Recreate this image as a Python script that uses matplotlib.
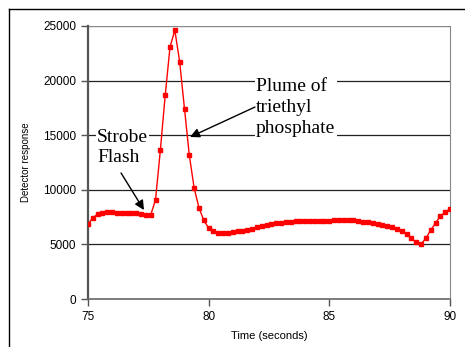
import matplotlib
matplotlib.use("Agg")
import matplotlib.pyplot as plt
from matplotlib.lines import Line2D

# time (s) and detector response
time_s = [75.0, 75.2, 75.4, 75.6, 75.8, 76.0, 76.2, 76.4, 76.6, 76.8,
          77.0, 77.2, 77.4, 77.6, 77.8, 78.0, 78.2, 78.4, 78.6, 78.8,
          79.0, 79.2, 79.4, 79.6, 79.8, 80.0, 80.2, 80.4, 80.6, 80.8,
          81.0, 81.2, 81.4, 81.6, 81.8, 82.0, 82.2, 82.4, 82.6, 82.8,
          83.0, 83.2, 83.4, 83.6, 83.8, 84.0, 84.2, 84.4, 84.6, 84.8,
          85.0, 85.2, 85.4, 85.6, 85.8, 86.0, 86.2, 86.4, 86.6, 86.8,
          87.0, 87.2, 87.4, 87.6, 87.8, 88.0, 88.2, 88.4, 88.6, 88.8,
          89.0, 89.2, 89.4, 89.6, 89.8, 90.0]
response = [6850, 7450, 7750, 7900, 7950, 7950, 7900, 7850, 7900, 7900,
            7850, 7800, 7700, 7700, 9100, 13650, 18650, 23100, 24600, 21700,
            17400, 13150, 10150, 8350, 7200, 6500, 6200, 6050, 6000, 6050,
            6100, 6200, 6250, 6350, 6450, 6550, 6650, 6800, 6870, 6950,
            7000, 7050, 7080, 7100, 7120, 7150, 7150, 7150, 7150, 7170,
            7180, 7200, 7200, 7200, 7200, 7190, 7150, 7080, 7020, 6950,
            6850, 6760, 6680, 6560, 6420, 6270, 5950, 5580, 5180, 5020,
            5560, 6300, 6950, 7600, 7950, 8250]

xticks = [75, 80, 85, 90]
yticks = [0, 5000, 10000, 15000, 20000, 25000]

plt.rcParams['font.family'] = ['Liberation Sans', 'DejaVu Sans']

fig = plt.figure(figsize=(4.65, 3.47), dpi=100)
ax = fig.add_axes([0.1892, 0.1383, 0.7785, 0.7868])

# page frame (top and left edges only)
fig.add_artist(Line2D([9/465, 1], [1 - 9/347, 1 - 9/347], color='black', lw=1))
fig.add_artist(Line2D([9/465, 9/465], [0, 1 - 9/347], color='black', lw=1))

for y in yticks[1:-1]:
    ax.axhline(y, color='#222222', lw=0.9, zorder=1)
ax.axhline(25000, color='#888888', lw=1, zorder=1)

ax.plot(time_s, response, color='red', lw=1, marker='s', markersize=3.2,
        zorder=3)

ax.set_xlim(75, 90)
ax.set_ylim(0, 25000)
ax.set_xticks(xticks)
ax.set_yticks(yticks)
ax.tick_params(labelsize=8.5, length=5, width=1, color='#555555', direction='out')

ax.spines['top'].set_visible(False)
ax.spines['right'].set_color('#888888')
ax.spines['left'].set_color('#555555')
ax.spines['left'].set_linewidth(1.6)
ax.spines['bottom'].set_color('#666666')
ax.spines['bottom'].set_linewidth(1.2)

ax.set_xlabel('Time (seconds)', fontsize=8, labelpad=6)
ax.set_ylabel('Detector response', fontsize=7, labelpad=9)

serif = ['Liberation Serif', 'DejaVu Serif']
box = dict(facecolor='white', edgecolor='none', pad=1)
ax.text(81.96, 17550, 'Plume of\ntriethyl\nphosphate', fontsize=14, family=serif,
        ha='left', va='center', bbox=box, zorder=4, linespacing=1.3)
ax.text(75.37, 13900, 'Strobe\nFlash', fontsize=14, family=serif,
        ha='left', va='center', bbox=box, zorder=4, linespacing=1.2)

arrow = dict(arrowstyle='-|>', color='black', lw=1, mutation_scale=14,
             shrinkA=0, shrinkB=0)
ax.annotate('', xy=(79.23, 14835), xytext=(81.92, 17580), arrowprops=arrow, zorder=5)
ax.annotate('', xy=(77.32, 8150), xytext=(76.37, 11540), arrowprops=arrow, zorder=5)

fig.savefig('out.png', dpi=100)
